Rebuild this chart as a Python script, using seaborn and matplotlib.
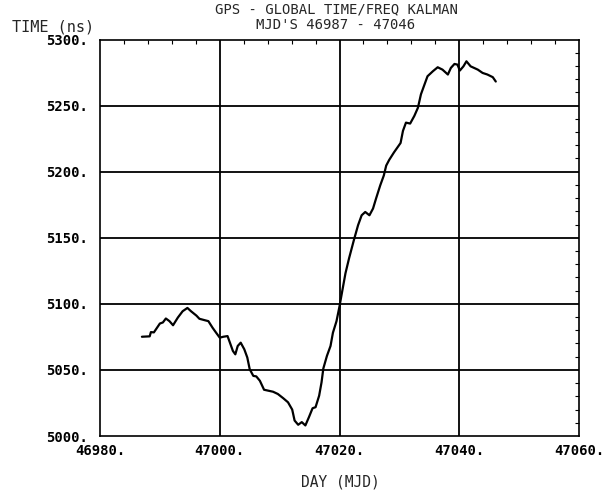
import matplotlib
matplotlib.use("Agg")
import matplotlib.pyplot as plt
from matplotlib.ticker import MultipleLocator, FuncFormatter
import pandas as pd
import seaborn as sns

# day (MJD) and time offset (ns)
mjd = [46987.0, 46988.3, 46988.5, 46989.0, 46990.0, 46990.5, 46991.0, 46991.6,
       46992.2, 46993.0, 46993.8, 46994.6, 46995.2, 46996.1, 46996.6, 46997.5,
       46998.1, 46998.8, 46999.4, 47000.0, 47000.6, 47001.3, 47001.7, 47002.2,
       47002.6, 47003.0, 47003.5, 47004.1, 47004.6, 47005.0, 47005.6, 47006.1,
       47006.7, 47007.4, 47008.1, 47008.9, 47009.7, 47010.6, 47011.4, 47012.1,
       47012.5, 47013.1, 47013.7, 47014.3, 47014.9, 47015.5, 47016.0, 47016.6,
       47017.0, 47017.3, 47017.9, 47018.5, 47018.9, 47019.5, 47020.0, 47020.5,
       47021.0, 47021.6, 47022.4, 47023.1, 47023.7, 47024.3, 47025.0, 47025.6,
       47026.1, 47026.8, 47027.4, 47027.8, 47028.3, 47029.1, 47030.2, 47030.6,
       47031.1, 47031.8, 47032.5, 47033.1, 47033.6, 47034.2, 47034.7, 47035.6,
       47036.4, 47037.2, 47038.1, 47038.6, 47039.2, 47039.7, 47040.1, 47040.7,
       47041.2, 47041.9, 47043.1, 47043.9, 47044.7, 47045.6, 47046.1]
time_ns = [5075.1, 5075.4, 5078.6, 5078.4, 5085.1, 5085.9, 5088.9, 5086.9,
           5083.8, 5089.6, 5094.4, 5096.9, 5094.4, 5091.1, 5088.7, 5087.6,
           5086.9, 5081.9, 5078.1, 5074.4, 5075.1, 5075.6, 5070.6, 5064.3,
           5061.8, 5068.1, 5070.6, 5065.6, 5059.4, 5050.6, 5045.5, 5045.1,
           5041.8, 5035.0, 5034.3, 5033.5, 5031.8, 5028.6, 5025.5, 5020.0,
           5011.7, 5008.5, 5010.5, 5008.0, 5014.3, 5021.0, 5021.8, 5030.5,
           5040.6, 5051.1, 5060.6, 5068.1, 5078.1, 5086.9, 5098.1, 5110.7,
           5123.2, 5134.5, 5148.2, 5159.5, 5167.0, 5169.5, 5167.0, 5172.1,
           5179.6, 5189.6, 5197.1, 5204.6, 5208.9, 5214.6, 5221.7, 5230.9,
           5237.1, 5236.4, 5242.2, 5248.4, 5258.5, 5266.0, 5272.2, 5276.0,
           5279.0, 5277.2, 5273.5, 5278.5, 5281.5, 5281.0, 5276.5, 5279.7,
           5283.5, 5279.7, 5277.2, 5274.7, 5273.5, 5271.5, 5268.2]

x_ticks = [46980, 47000, 47020, 47040, 47060]
y_ticks = [5000, 5050, 5100, 5150, 5200, 5250, 5300]

sns.set_style("white")
plt.rcParams['font.family'] = ['DejaVu Sans Mono', 'DejaVu Sans']

df = pd.DataFrame({'MJD': mjd, 'Time': time_ns})

W, H = 605, 495
fig = plt.figure(figsize=(W / 100, H / 100), dpi=100)
ax = fig.add_axes([100 / W, 1 - 436 / H, 479 / W, 396.5 / H])

sns.lineplot(data=df, x='MJD', y='Time', ax=ax, color='black', linewidth=1.6,
             estimator=None, sort=False)

ax.set_xlim(x_ticks[0], x_ticks[-1])
ax.set_ylim(y_ticks[0], y_ticks[-1])
ax.set_xticks(x_ticks)
ax.set_yticks(y_ticks)
ax.xaxis.set_minor_locator(MultipleLocator(4))
ax.yaxis.set_minor_locator(MultipleLocator(10))
fmt = FuncFormatter(lambda v, p: f"{int(v)}.")
ax.xaxis.set_major_formatter(fmt)
ax.yaxis.set_major_formatter(fmt)
ax.tick_params(which='both', direction='in', top=True, right=True, colors='black',
               labelsize=10)
ax.tick_params(which='major', length=0)
ax.tick_params(axis='y', which='major', pad=9)
ax.tick_params(axis='x', which='major', pad=6)
ax.tick_params(which='minor', length=3, width=0.8)
for lab in ax.get_xticklabels() + ax.get_yticklabels():
    lab.set_fontweight('bold')

for v in x_ticks[1:-1]:
    ax.axvline(v, color='black', linewidth=1.3, zorder=1)
for v in y_ticks[1:-1]:
    ax.axhline(v, color='black', linewidth=1.3, zorder=1)

for s in ax.spines.values():
    s.set_color('black')
    s.set_linewidth(1.2)

ax.set_xlabel("")
ax.set_ylabel("")
fig.text(340 / W, 1 - 482 / H, "DAY (MJD)", fontsize=10.5, ha='center', va='center')
fig.text(12 / W, 1 - 27 / H, "TIME (ns)", fontsize=11, va='center', ha='left')
fig.text(336 / W, 1 - 9.5 / H, "GPS - GLOBAL TIME/FREQ KALMAN", fontsize=10,
         ha='center', va='center')
fig.text(336 / W, 1 - 25 / H, "MJD'S 46987 - 47046", fontsize=10,
         ha='center', va='center')

fig.savefig("out.png", dpi=100, facecolor='white')
